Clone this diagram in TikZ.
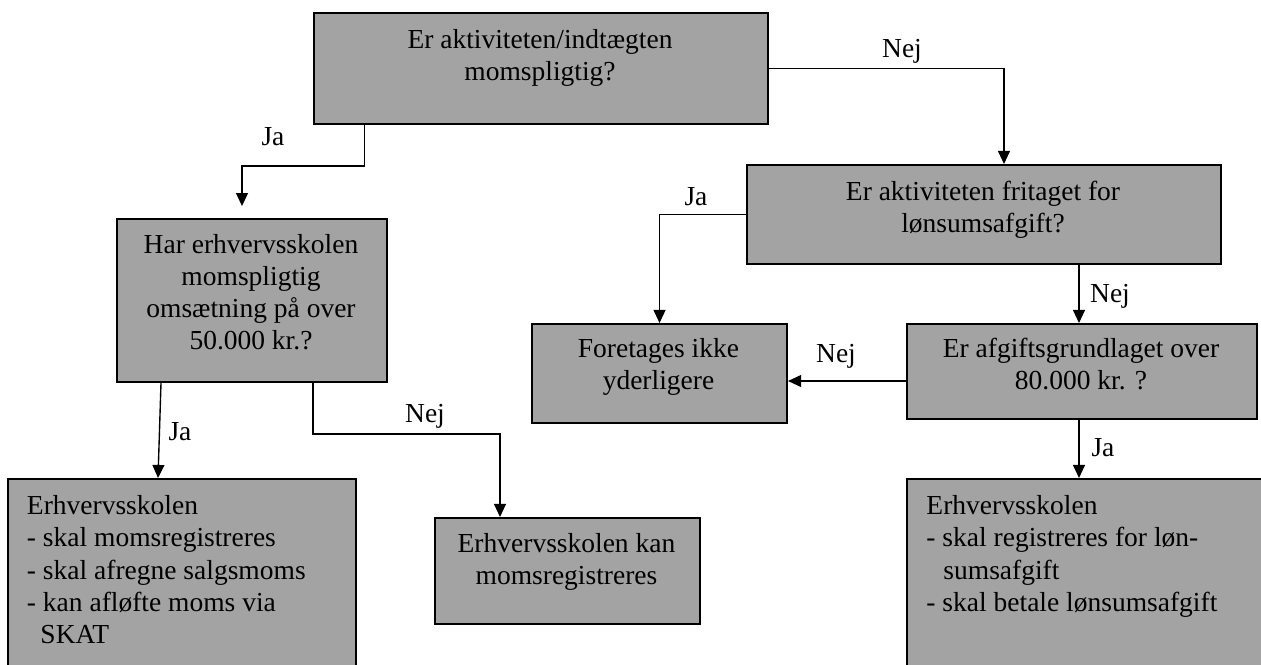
\documentclass[tikz,border=0pt]{standalone}
\usepackage{fontspec}
\setmainfont{Liberation Serif}
\usepackage{tikz}
\usetikzlibrary{positioning, calc}
\usetikzlibrary{arrows.meta}

\definecolor{boxgray}{RGB}{163,163,163}

\begin{document}
\begin{tikzpicture}[x=0.4364pt, y=-0.4364pt]
	\def \pix{0.4364pt}
	\def \toprow{12}
	\def \secrow{164}
	\def \midrow{323}
	\def \lowrow{478}
	\def \nejlevel{381}

	\tikzstyle{q-box}=[rectangle,draw=black!100,fill=boxgray,line width=0.9pt,inner sep=0pt,anchor=north west]
	\tikzstyle{c-text}=[inner sep=0pt,anchor=north,align=center,yshift=-1.5pt,font=\fontsize{12}{14}\selectfont,execute at begin node=\strut]
	\tikzstyle{l-text}=[c-text,anchor=north west,align=left,yshift=-0.6pt]
	\tikzstyle{ans}=[inner sep=0pt,anchor=base,font=\fontsize{12}{14}\selectfont]
	\tikzstyle{arr}=[-{Triangle[length=5.7pt,width=5.2pt]},line width=0.6pt]

	\useasboundingbox (0,0) rectangle (1261,664);
	\clip (0,0) rectangle (1261,664);

	% question boxes
	\node[q-box,minimum width=454*\pix,minimum height=111*\pix] (qmoms)  at (313,\toprow)  {};
	\node[q-box,minimum width=270*\pix,minimum height=163*\pix] (qhar)   at (116,218)      {};
	\node[q-box,minimum width=474*\pix,minimum height=99*\pix]  (qfri)   at (746,\secrow)  {};
	\node[q-box,minimum width=350*\pix,minimum height=95*\pix]  (qgrund) at (906,\midrow)  {};

	% result boxes
	\node[q-box,minimum width=255*\pix,minimum height=99*\pix]  (nfore)  at (531,\midrow)  {};
	\node[q-box,minimum width=265*\pix,minimum height=106*\pix] (nkan)   at (434,517)      {};
	\node[q-box,minimum width=348*\pix,minimum height=220*\pix] (rmoms)  at (7,\lowrow)    {};
	\node[q-box,minimum width=400*\pix,minimum height=220*\pix] (rloen)  at (906,\lowrow)  {};

	% texts
	\node[c-text] (tmoms)  at (540,25.5)   {Er aktiviteten/indtægten\\momspligtig?};
	\node[c-text] (thar)   at (251,230.5)  {Har erhvervsskolen\\momspligtig\\omsætning på over\\50.000 kr.?};
	\node[c-text] (tfri)   at (983,177.5)  {Er aktiviteten fritaget for\\lønsumsafgift?};
	\node[c-text] (tfore)  at (658.5,334.5) {Foretages ikke\\yderligere};
	\node[c-text] (tgrund) at (1081,334.5) {Er afgiftsgrundlaget over\\80.000 kr. ?};
	\node[c-text] (tkan)   at (566.5,529.5) {Erhvervsskolen kan\\momsregistreres};
	\node[l-text] (tmomsreg) at (26.5,490.5) {Erhvervsskolen\\- skal momsregistreres\\- skal afregne salgsmoms\\- kan afløfte moms via\\\hspace*{5.9pt}SKAT};
	\node[l-text] (tloen)  at (926,490.5)  {Erhvervsskolen\\- skal registreres for løn-\\\hspace*{7.4pt}sumsafgift\\- skal betale lønsumsafgift};

	% answers
	\node[ans] (ja1)  at (273,145)  {Ja};
	\node[ans] (nej1) at (902,57)   {Nej};
	\node[ans] (ja2)  at (696,205)  {Ja};
	\node[ans] (nej2) at (1110,302) {Nej};
	\node[ans] (nej3) at (836,362)  {Nej};
	\node[ans] (ja3)  at (1103,456) {Ja};
	\node[ans] (ja4)  at (180,440)  {Ja};
	\node[ans] (nej4) at (425,422)  {Nej};

	% connectors
	\draw[arr,shorten >=5.2pt] (qmoms.south -| 364.5,0) -- ++(0,41) -| (qhar.north -| 242,0);
	\draw[arr] (qmoms.east) -| (qfri.north -| 1004,0);
	\draw[arr] (qfri.west) -| (nfore.north);
	\draw[arr] (qfri.south -| 1079,0) -- (qgrund.north -| 1079,0);
	\draw[arr] (qgrund.west |- 0,\nejlevel) -- (nfore.east |- 0,\nejlevel);
	\draw[arr] (qgrund.south -| 1079,0) -- (rloen.north -| 1079,0);
	\draw[arr] (qhar.south -| 161,0) -- (rmoms.north -| 158,0);
	\draw[arr] (qhar.south -| 313,0) -- ++(0,51) -| (nkan.north -| 500,0);
\end{tikzpicture}
\end{document}
